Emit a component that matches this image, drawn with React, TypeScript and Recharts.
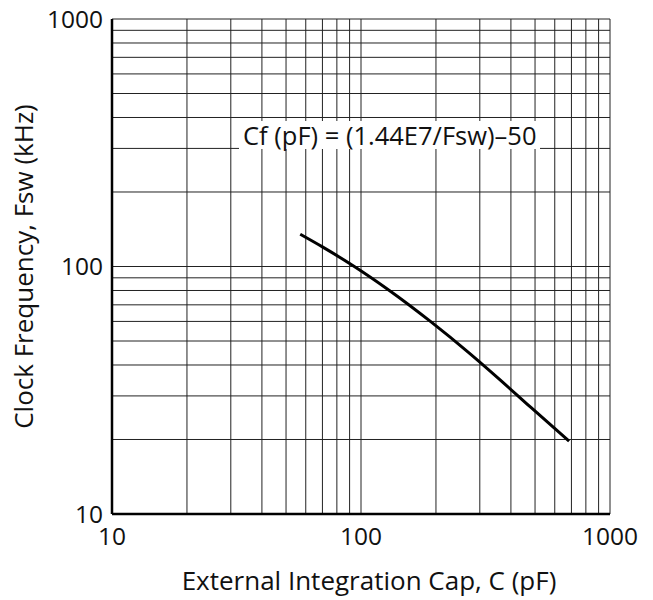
import React from 'react'
import { LineChart, Line, XAxis, YAxis, CartesianGrid } from 'recharts'

// curve: clock frequency (kHz) vs external cap (pF)
const capPf = [57, 70, 94, 130, 190, 270, 360, 480, 685]
const fswKhz = [135, 120, 100, 80, 60, 45, 35, 27, 19.7]

const logTicks = [10, 20, 30, 40, 50, 60, 70, 80, 90, 100, 200, 300, 400, 500, 600, 700, 800, 900, 1000]
const labeledTicks = [10, 100, 1000]

const formula = 'Cf (pF) = (1.44E7/Fsw)\u201350'
const xTitle = 'External Integration Cap, C (pF)'
const yTitle = 'Clock Frequency, Fsw (kHz)'

const data = capPf.map((c, i) => ({ cap: c, fsw: fswKhz[i] }))

const FONT = '"Open Sans", sans-serif'

const fmt = (v: number) => (labeledTicks.includes(v) ? String(v) : '')

function YTitle(props: any) {
  const { viewBox } = props
  const cy = viewBox.y + viewBox.height / 2
  return (
    <text x={33} y={cy} transform={`rotate(-90 33 ${cy})`} textAnchor="middle" fontSize={26} fontFamily={FONT} fill="#111">
      {yTitle}
    </text>
  )
}

function XTitle(props: any) {
  const { viewBox } = props
  const cx = viewBox.x + viewBox.width / 2 + 8
  return (
    <text x={cx} y={590} textAnchor="middle" fontSize={26} fontFamily={FONT} fill="#111">
      {xTitle}
    </text>
  )
}

export default function App() {
  return (
    <div style={{ position: 'absolute', left: 0, top: 0, width: 653, height: 600, background: '#fff' }}>
      <LineChart width={653} height={600} data={data} margin={{ top: 19, right: 43, bottom: 0, left: 0 }}>
        <CartesianGrid stroke="#222" strokeWidth={1} />
        <XAxis
          dataKey="cap"
          type="number"
          scale="log"
          domain={[10, 1000]}
          ticks={logTicks}
          tickFormatter={fmt}
          interval={0}
          allowDataOverflow
          height={86}
          tickLine={false}
          axisLine={{ stroke: '#000', strokeWidth: 2.5 }}
          tickMargin={8}
          tick={{ fontSize: 24.5, fontFamily: FONT, fill: '#111' }}
          label={<XTitle />}
        />
        <YAxis
          dataKey="fsw"
          type="number"
          scale="log"
          domain={[10, 1000]}
          ticks={logTicks}
          tickFormatter={fmt}
          interval={0}
          allowDataOverflow
          width={112}
          tickLine={false}
          axisLine={{ stroke: '#000', strokeWidth: 2.5 }}
          tickMargin={3}
          tick={{ fontSize: 24.5, fontFamily: FONT, fill: '#111' }}
          label={<YTitle />}
        />
        <XAxis xAxisId="top" orientation="top" dataKey="cap" type="number" scale="log" domain={[10, 1000]} height={0} tick={false} tickLine={false} axisLine={{ stroke: '#000', strokeWidth: 2.5 }} />
        <YAxis yAxisId="right" orientation="right" dataKey="fsw" type="number" scale="log" domain={[10, 1000]} width={0} tick={false} tickLine={false} axisLine={{ stroke: '#000', strokeWidth: 2.5 }} />
        <Line
          dataKey="fsw"
          type="monotone"
          stroke="#000"
          strokeWidth={3}
          dot={false}
          isAnimationActive={false}
        />
      </LineChart>
      <div
        style={{
          position: 'absolute',
          zIndex: 10,
          left: 239,
          top: 121,
          height: 28,
          padding: '0 4px',
          background: '#fff',
          fontFamily: FONT,
          fontSize: 25.5,
          lineHeight: '28px',
          color: '#111',
          whiteSpace: 'nowrap',
        }}
      >
        {formula}
      </div>
    </div>
  )
}
